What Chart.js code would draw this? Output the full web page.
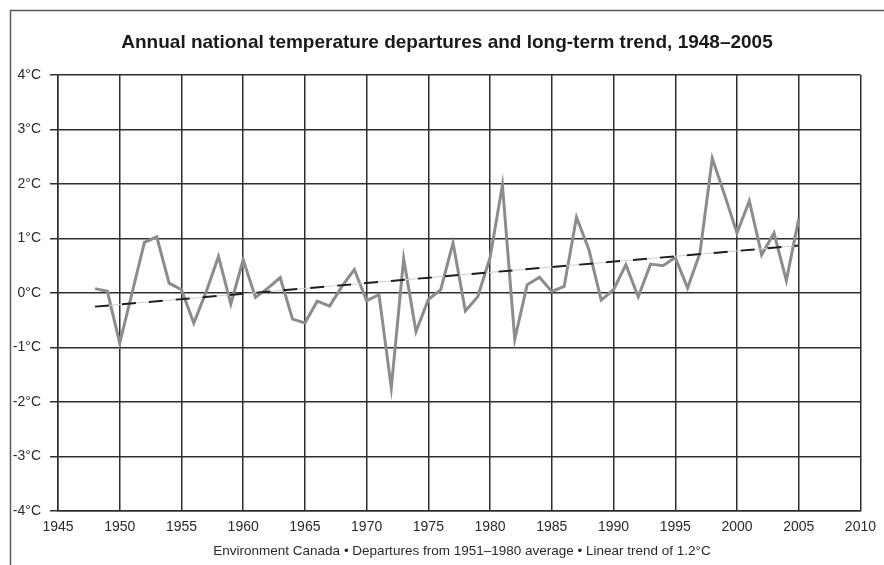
<!DOCTYPE html>
<html>
<head>
<meta charset="utf-8">
<script src="https://cdn.jsdelivr.net/npm/chart.js@4.4.1/dist/chart.umd.min.js"></script>
<style>
  html, body { margin: 0; padding: 0; background: #ffffff; }
  #wrap { width: 884px; height: 565px; }
</style>
</head>
<body>
<div id="wrap"><canvas id="chart" width="884" height="565"></canvas></div>
<script>
// Annual departures from the 1951–1980 average, °C
const years = [
  1948, 1949, 1950, 1951, 1952, 1953, 1954, 1955, 1956, 1957,
  1958, 1959, 1960, 1961, 1962, 1963, 1964, 1965, 1966, 1967,
  1968, 1969, 1970, 1971, 1972, 1973, 1974, 1975, 1976, 1977,
  1978, 1979, 1980, 1981, 1982, 1983, 1984, 1985, 1986, 1987,
  1988, 1989, 1990, 1991, 1992, 1993, 1994, 1995, 1996, 1997,
  1998, 1999, 2000, 2001, 2002, 2003, 2004, 2005
];
const departures = [
  0.08, 0.03, -0.92, 0.00, 0.93, 1.03, 0.18, 0.06, -0.55, 0.02,
  0.67, -0.20, 0.61, -0.08, 0.09, 0.28, -0.48, -0.55, -0.15, -0.24,
  0.12, 0.43, -0.14, -0.03, -1.74, 0.63, -0.71, -0.12, 0.06, 0.92,
  -0.33, -0.07, 0.65, 1.98, -0.85, 0.15, 0.29, 0.03, 0.12, 1.39,
  0.80, -0.13, 0.06, 0.52, -0.07, 0.53, 0.50, 0.65, 0.09, 0.73,
  2.47, 1.80, 1.10, 1.69, 0.70, 1.10, 0.23, 1.36
];

// Linear trend line endpoints
const trendYears = [1948, 2005];
const trendValues = [-0.25, 0.87];

// Axis ranges and tick steps
const xRange = [1945, 2010];
const xStep = 5;
const yRange = [-4, 4];
const yStep = 1;

const titleText = 'Annual national temperature departures and long-term trend, 1948\u20132005';
const footerText = 'Environment Canada \u2022 Departures from 1951\u20131980 average \u2022 Linear trend of 1.2\u00b0C';

const FONT = '"Liberation Sans", Arial, sans-serif';

const series = years.map((y, i) => ({ x: y, y: departures[i] }));
const trend = trendYears.map((y, i) => ({ x: y, y: trendValues[i] }));

// Frame, title and source line drawn around the plot
const decorations = {
  id: 'decorations',
  afterDraw(chart) {
    const ctx = chart.ctx;
    ctx.save();
    ctx.strokeStyle = '#5a5a5a';
    ctx.lineWidth = 1.5;
    ctx.beginPath();
    ctx.moveTo(10.5, 565);
    ctx.lineTo(10.5, 10.5);
    ctx.lineTo(884, 10.5);
    ctx.stroke();

    ctx.fillStyle = '#1a1a1a';
    ctx.textAlign = 'center';
    ctx.textBaseline = 'middle';
    ctx.font = 'bold 19px ' + FONT;
    ctx.fillText(titleText, 447, 43);

    ctx.fillStyle = '#2a2a2a';
    ctx.font = '13.5px ' + FONT;
    ctx.fillText(footerText, 462, 551);
    ctx.restore();
  }
};

new Chart(document.getElementById('chart'), {
  type: 'line',
  data: {
    datasets: [
      {
        data: trend,
        borderColor: '#1e1e1e',
        borderWidth: 2,
        borderDash: [14, 13],
        pointRadius: 0,
        fill: false,
        order: 0
      },
      {
        data: trend,
        borderColor: '#cfcfcf',
        borderWidth: 1,
        pointRadius: 0,
        fill: false,
        order: 1
      },
      {
        data: series,
        borderColor: '#8c8c8c',
        borderWidth: 3,
        pointRadius: 0,
        tension: 0,
        fill: false,
        order: 2
      }
    ]
  },
  options: {
    responsive: false,
    animation: false,
    devicePixelRatio: 1,
    layout: { autoPadding: false, padding: { left: 0, top: 75, right: 17, bottom: 0 } },
    plugins: {
      legend: { display: false },
      title: { display: false },
      tooltip: { enabled: false }
    },
    scales: {
      x: {
        type: 'linear',
        min: xRange[0],
        max: xRange[1],
        border: { display: true, color: '#2e2e2e', width: 1.5 },
        grid: { color: '#2e2e2e', lineWidth: 1.5, drawTicks: false },
        ticks: {
          stepSize: xStep,
          padding: 8,
          color: '#2a2a2a',
          font: { family: FONT, size: 14 },
          callback: v => String(v)
        },
        afterFit(scale) { scale.height = 54; }
      },
      y: {
        min: yRange[0],
        max: yRange[1],
        border: { display: true, color: '#2e2e2e', width: 1.5 },
        grid: { color: '#2e2e2e', lineWidth: 1.5, tickLength: 8 },
        ticks: {
          stepSize: yStep,
          padding: 9,
          color: '#2a2a2a',
          font: { family: FONT, size: 14 },
          callback: v => v + '\u00b0C'
        },
        afterFit(scale) { scale.width = 58; }
      }
    }
  },
  plugins: [decorations]
});
</script>
</body>
</html>
